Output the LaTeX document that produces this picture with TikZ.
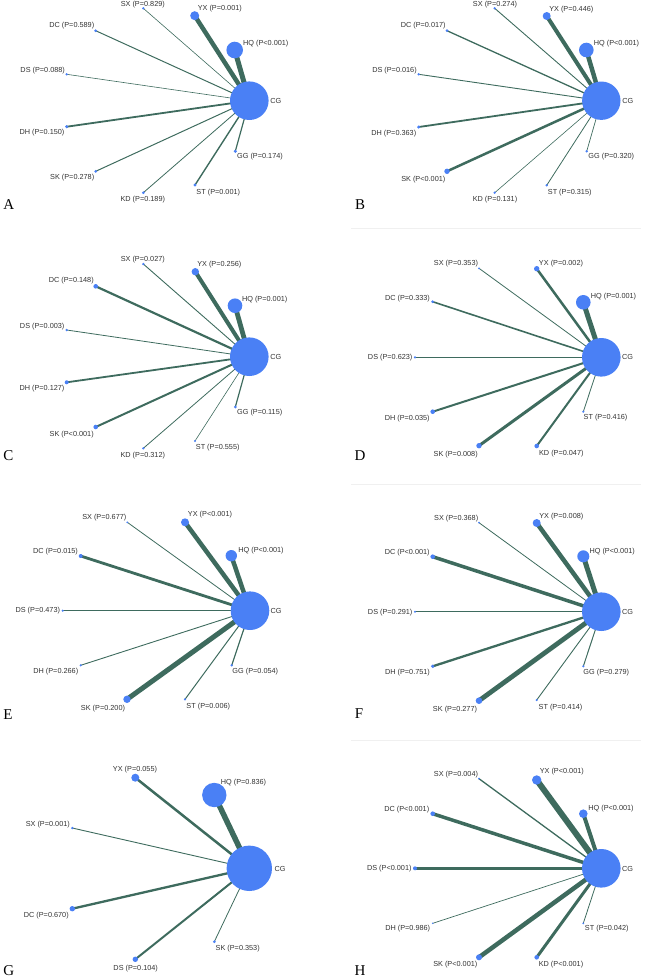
\documentclass[tikz,border=0pt]{standalone}
\usepackage{fontspec}
\setmainfont{Liberation Sans}
\newfontfamily\panelfont{Liberation Serif}
\usepackage{tikz}
\usetikzlibrary{positioning, backgrounds}
\definecolor{trtblue}{HTML}{4A80F5}
\definecolor{linkgreen}{HTML}{3E6B5E}
\definecolor{labgray}{HTML}{333333}

\tikzset{
  trt/.style={circle, fill=trtblue, inner sep=0pt, minimum size=#1},
  lab/.style={font=\fontsize{7.3}{8}\selectfont, text=labgray, inner sep=0pt},
  link/.style={draw=linkgreen, line width=#1},
  panel/.style={font=\panelfont\fontsize{15}{16}\selectfont, inner sep=0pt},
  faintrule/.style={draw=black!6, line width=0.8pt}
}

\begin{document}
\begin{tikzpicture}[x=1pt, y=-1pt]
    \useasboundingbox (0,0) rectangle (646,978);

    % A
    \node[trt=38.6pt] (a-cg) at (249.3,100.7) {}; \node[lab] (a-cg-t) at (275.8,100.7) {CG};
    \node[trt=9pt] (a-yx) at (194.7,15.7) {}; \node[lab] (a-yx-t) at (219.8,8.3) {YX (P=0.001)};
    \node[trt=16.6pt] (a-hq) at (234.7,50) {}; \node[lab] (a-hq-t) at (265.8,43.3) {HQ (P<0.001)};
    \node[trt=2.6pt] (a-sx) at (143.3,8.3) {}; \node[lab] (a-sx-t) at (142.8,5) {SX (P=0.829)};
    \node[trt=3pt] (a-dc) at (95.7,30.7) {}; \node[lab] (a-dc-t) at (71.8,25.3) {DC (P=0.589)};
    \node[trt=2.6pt] (a-ds) at (66.7,74.3) {}; \node[lab] (a-ds-t) at (42.7,71) {DS (P=0.088)};
    \node[trt=3.4pt] (a-dh) at (66.7,126.7) {}; \node[lab] (a-dh-t) at (42,132.7) {DH (P=0.150)};
    \node[trt=3pt] (a-sk) at (95.7,171.3) {}; \node[lab] (a-sk-t) at (72.2,177.7) {SK (P=0.278)};
    \node[trt=3pt] (a-kd) at (143.3,192.7) {}; \node[lab] (a-kd-t) at (142.8,200) {KD (P=0.189)};
    \node[trt=3.4pt] (a-st) at (195,185) {}; \node[lab] (a-st-t) at (218.3,192.3) {ST (P=0.001)};
    \node[trt=3.4pt] (a-gg) at (235.3,151.3) {}; \node[lab] (a-gg-t) at (260,156.7) {GG (P=0.174)};
    \node[panel] (a-name) at (8.7,205) {A};

    % B
    \node[trt=38.4pt] (b-cg) at (601.3,100.7) {}; \node[lab] (b-cg-t) at (627.8,100.7) {CG};
    \node[trt=8pt] (b-yx) at (546.7,16) {}; \node[lab] (b-yx-t) at (571.3,9.3) {YX (P=0.446)};
    \node[trt=14.6pt] (b-hq) at (586.3,50) {}; \node[lab] (b-hq-t) at (616.5,43.3) {HQ (P<0.001)};
    \node[trt=2.6pt] (b-sx) at (494.7,8.3) {}; \node[lab] (b-sx-t) at (495,4.3) {SX (P=0.274)};
    \node[trt=3pt] (b-dc) at (447,30.7) {}; \node[lab] (b-dc-t) at (423.2,25.3) {DC (P=0.017)};
    \node[trt=2.6pt] (b-ds) at (418.7,74.3) {}; \node[lab] (b-ds-t) at (394.5,71) {DS (P=0.016)};
    \node[trt=3.4pt] (b-dh) at (418.7,127) {}; \node[lab] (b-dh-t) at (393.8,133.3) {DH (P=0.363)};
    \node[trt=5.4pt] (b-sk) at (447,171.3) {}; \node[lab] (b-sk-t) at (423.3,179.3) {SK (P<0.001)};
    \node[trt=2.6pt] (b-kd) at (494.7,192.7) {}; \node[lab] (b-kd-t) at (495,200) {KD (P=0.131)};
    \node[trt=2.6pt] (b-st) at (546.7,185.3) {}; \node[lab] (b-st-t) at (569.7,192.3) {ST (P=0.315)};
    \node[trt=2.6pt] (b-gg) at (586.7,151.3) {}; \node[lab] (b-gg-t) at (611.3,156.7) {GG (P=0.320)};
    \node[panel] (b-name) at (360,204.3) {B};
    \draw[faintrule] (351,228.3) -- (641,228.3);

    % C
    \node[trt=38.6pt] (c-cg) at (249.3,356.7) {}; \node[lab] (c-cg-t) at (275.8,356.7) {CG};
    \node[trt=7.4pt] (c-yx) at (195.3,271.7) {}; \node[lab] (c-yx-t) at (219.3,265) {YX (P=0.256)};
    \node[trt=14.6pt] (c-hq) at (235,305.7) {}; \node[lab] (c-hq-t) at (264.7,299.3) {HQ (P=0.001)};
    \node[trt=2.6pt] (c-sx) at (143.3,264) {}; \node[lab] (c-sx-t) at (142.8,259.3) {SX (P=0.027)};
    \node[trt=4.6pt] (c-dc) at (95.7,286.3) {}; \node[lab] (c-dc-t) at (71.3,281) {DC (P=0.148)};
    \node[trt=2.6pt] (c-ds) at (66.7,330) {}; \node[lab] (c-ds-t) at (42.2,326.7) {DS (P=0.003)};
    \node[trt=4pt] (c-dh) at (66.7,382.3) {}; \node[lab] (c-dh-t) at (42,389) {DH (P=0.127)};
    \node[trt=4.6pt] (c-sk) at (95.7,427) {}; \node[lab] (c-sk-t) at (71.7,435) {SK (P<0.001)};
    \node[trt=2.6pt] (c-kd) at (143.3,448.3) {}; \node[lab] (c-kd-t) at (142.8,455.7) {KD (P=0.312)};
    \node[trt=2.4pt] (c-st) at (195,441) {}; \node[lab] (c-st-t) at (217.7,447.7) {ST (P=0.555)};
    \node[trt=3pt] (c-gg) at (235.3,407) {}; \node[lab] (c-gg-t) at (259.7,412.3) {GG (P=0.115)};
    \node[panel] (c-name) at (8.3,455.7) {C};

    % D
    \node[trt=38.6pt] (d-cg) at (601.3,357.3) {}; \node[lab] (d-cg-t) at (627.5,357.3) {CG};
    \node[trt=5.4pt] (d-yx) at (536.7,268.7) {}; \node[lab] (d-yx-t) at (561,263.3) {YX (P=0.002)};
    \node[trt=14.6pt] (d-hq) at (583.3,302.3) {}; \node[lab] (d-hq-t) at (613.5,296.3) {HQ (P=0.001)};
    \node[trt=2pt] (d-sx) at (479,268.3) {}; \node[lab] (d-sx-t) at (456,264) {SX (P=0.353)};
    \node[trt=3pt] (d-dc) at (432.7,301.7) {}; \node[lab] (d-dc-t) at (407.5,298.3) {DC (P=0.333)};
    \node[trt=2.4pt] (d-ds) at (415,357.3) {}; \node[lab] (d-ds-t) at (390.2,357.7) {DS (P=0.623)};
    \node[trt=4.6pt] (d-dh) at (432.7,411.7) {}; \node[lab] (d-dh-t) at (407.2,418.3) {DH (P=0.035)};
    \node[trt=5.4pt] (d-sk) at (479,445.7) {}; \node[lab] (d-sk-t) at (455.7,454.3) {SK (P=0.008)};
    \node[trt=4.6pt] (d-kd) at (536.7,446) {}; \node[lab] (d-kd-t) at (561.3,454) {KD (P=0.047)};
    \node[trt=2.4pt] (d-st) at (583.3,411.7) {}; \node[lab] (d-st-t) at (605.5,417.7) {ST (P=0.416)};
    \node[panel] (d-name) at (360,456) {D};
    \draw[faintrule] (351,484.3) -- (641,484.3);

    % E
    \node[trt=38.6pt] (e-cg) at (250,610.7) {}; \node[lab] (e-cg-t) at (276.2,610.7) {CG};
    \node[trt=8pt] (e-yx) at (185,522.3) {}; \node[lab] (e-yx-t) at (210,515) {YX (P<0.001)};
    \node[trt=11.4pt] (e-hq) at (231.3,555.7) {}; \node[lab] (e-hq-t) at (261,550.7) {HQ (P<0.001)};
    \node[trt=2pt] (e-sx) at (127.3,522.3) {}; \node[lab] (e-sx-t) at (104.3,517.7) {SX (P=0.677)};
    \node[trt=4pt] (e-dc) at (80.7,556) {}; \node[lab] (e-dc-t) at (55.5,552) {DC (P=0.015)};
    \node[trt=2.4pt] (e-ds) at (62.7,610.7) {}; \node[lab] (e-ds-t) at (37.8,610.7) {DS (P=0.473)};
    \node[trt=2.4pt] (e-dh) at (80.7,665.3) {}; \node[lab] (e-dh-t) at (55.8,671.7) {DH (P=0.266)};
    \node[trt=7.4pt] (e-sk) at (127,699.3) {}; \node[lab] (e-sk-t) at (103,708.7) {SK (P=0.200)};
    \node[trt=2.4pt] (e-st) at (185,699.3) {}; \node[lab] (e-st-t) at (208.3,706.7) {ST (P=0.006)};
    \node[trt=2.6pt] (e-gg) at (231.7,665.3) {}; \node[lab] (e-gg-t) at (255.3,671.7) {GG (P=0.054)};
    \node[panel] (e-name) at (8,715) {E};

    % F
    \node[trt=38.6pt] (f-cg) at (601.3,611.7) {}; \node[lab] (f-cg-t) at (627.5,612.3) {CG};
    \node[trt=8pt] (f-yx) at (536.7,523) {}; \node[lab] (f-yx-t) at (561.3,516.7) {YX (P=0.008)};
    \node[trt=12pt] (f-hq) at (583.3,556.3) {}; \node[lab] (f-hq-t) at (612.2,551.3) {HQ (P<0.001)};
    \node[trt=2pt] (f-sx) at (479,522.7) {}; \node[lab] (f-sx-t) at (456.2,518.3) {SX (P=0.368)};
    \node[trt=4.6pt] (f-dc) at (432.7,556.7) {}; \node[lab] (f-dc-t) at (407.2,552.3) {DC (P<0.001)};
    \node[trt=2.4pt] (f-ds) at (415,611.7) {}; \node[lab] (f-ds-t) at (390.2,612.3) {DS (P=0.291)};
    \node[trt=3.6pt] (f-dh) at (432.7,666.3) {}; \node[lab] (f-dh-t) at (407.5,672.7) {DH (P=0.751)};
    \node[trt=6.6pt] (f-sk) at (479,700.7) {}; \node[lab] (f-sk-t) at (455,709.3) {SK (P=0.277)};
    \node[trt=2.4pt] (f-st) at (536.7,700) {}; \node[lab] (f-st-t) at (560.5,707.7) {ST (P=0.414)};
    \node[trt=2.4pt] (f-gg) at (583.3,666.3) {}; \node[lab] (f-gg-t) at (606.3,672.3) {GG (P=0.279)};
    \node[panel] (f-name) at (359,714) {F};

    % G
    \node[trt=45.4pt] (g-cg) at (249.3,868.3) {}; \node[lab] (g-cg-t) at (280,869) {CG};
    \node[trt=8pt] (g-yx) at (135.3,777.7) {}; \node[lab] (g-yx-t) at (135,769.3) {YX (P=0.055)};
    \node[trt=24.4pt] (g-hq) at (214.3,795) {}; \node[lab] (g-hq-t) at (243.5,782.3) {HQ (P=0.836)};
    \node[trt=2.6pt] (g-sx) at (72.3,828) {}; \node[lab] (g-sx-t) at (47.8,824.3) {SX (P=0.001)};
    \node[trt=5.4pt] (g-dc) at (72.3,908.7) {}; \node[lab] (g-dc-t) at (46.3,916) {DC (P=0.670)};
    \node[trt=5.4pt] (g-ds) at (135.3,959.3) {}; \node[lab] (g-ds-t) at (135.7,968.3) {DS (P=0.104)};
    \node[trt=3pt] (g-sk) at (214.3,941.7) {}; \node[lab] (g-sk-t) at (237.7,948.3) {SK (P=0.353)};
    \node[panel] (g-name) at (8.7,970.5) {G};

    % H
    \draw[faintrule] (351,740) -- (641,740);
    \node[trt=38.6pt] (h-cg) at (601.3,868.3) {}; \node[lab] (h-cg-t) at (627.5,869) {CG};
    \node[trt=9.4pt] (h-yx) at (536.7,780) {}; \node[lab] (h-yx-t) at (561.8,771.7) {YX (P<0.001)};
    \node[trt=8.6pt] (h-hq) at (583.3,813.7) {}; \node[lab] (h-hq-t) at (611,809) {HQ (P<0.001)};
    \node[trt=2pt] (h-sx) at (479,778.7) {}; \node[lab] (h-sx-t) at (456,775) {SX (P=0.004)};
    \node[trt=4.6pt] (h-dc) at (432.7,813.7) {}; \node[lab] (h-dc-t) at (406.8,810) {DC (P<0.001)};
    \node[trt=4pt] (h-ds) at (415,868.3) {}; \node[lab] (h-ds-t) at (389.3,869) {DS (P<0.001)};
    \node[trt=1.6pt] (h-dh) at (432.7,923.3) {}; \node[lab] (h-dh-t) at (407.7,929) {DH (P=0.986)};
    \node[trt=6pt] (h-sk) at (479,957.3) {}; \node[lab] (h-sk-t) at (455.3,965) {SK (P<0.001)};
    \node[trt=4.6pt] (h-kd) at (536.7,957.3) {}; \node[lab] (h-kd-t) at (561,965) {KD (P<0.001)};
    \node[trt=2pt] (h-st) at (583.3,923.3) {}; \node[lab] (h-st-t) at (606.8,929) {ST (P=0.042)};
    \node[panel] (h-name) at (360,970.8) {H};

    % links behind the circles
    \begin{scope}[on background layer]
    \draw[link=0.6pt] (a-sx.center) -- (a-cg.center);
    \draw[link=4.5pt] (a-yx.center) -- (a-cg.center);
    \draw[link=5pt] (a-hq.center) -- (a-cg.center);
    \draw[link=1pt] (a-dc.center) -- (a-cg.center);
    \draw[link=0.6pt] (a-ds.center) -- (a-cg.center);
    \draw[link=1.8pt] (a-dh.center) -- (a-cg.center);
    \draw[link=1pt] (a-sk.center) -- (a-cg.center);
    \draw[link=0.8pt] (a-kd.center) -- (a-cg.center);
    \draw[link=1.4pt] (a-st.center) -- (a-cg.center);
    \draw[link=1.2pt] (a-gg.center) -- (a-cg.center);

    \draw[link=0.9pt] (b-sx.center) -- (b-cg.center);
    \draw[link=4pt] (b-yx.center) -- (b-cg.center);
    \draw[link=4.5pt] (b-hq.center) -- (b-cg.center);
    \draw[link=1.3pt] (b-dc.center) -- (b-cg.center);
    \draw[link=0.9pt] (b-ds.center) -- (b-cg.center);
    \draw[link=1.8pt] (b-dh.center) -- (b-cg.center);
    \draw[link=2.5pt] (b-sk.center) -- (b-cg.center);
    \draw[link=0.6pt] (b-kd.center) -- (b-cg.center);
    \draw[link=0.8pt] (b-st.center) -- (b-cg.center);
    \draw[link=0.7pt] (b-gg.center) -- (b-cg.center);

    \draw[link=0.9pt] (c-sx.center) -- (c-cg.center);
    \draw[link=4pt] (c-yx.center) -- (c-cg.center);
    \draw[link=4.8pt] (c-hq.center) -- (c-cg.center);
    \draw[link=2.2pt] (c-dc.center) -- (c-cg.center);
    \draw[link=0.8pt] (c-ds.center) -- (c-cg.center);
    \draw[link=1.8pt] (c-dh.center) -- (c-cg.center);
    \draw[link=2pt] (c-sk.center) -- (c-cg.center);
    \draw[link=0.8pt] (c-kd.center) -- (c-cg.center);
    \draw[link=0.6pt] (c-st.center) -- (c-cg.center);
    \draw[link=1.2pt] (c-gg.center) -- (c-cg.center);

    \draw[link=0.8pt] (d-sx.center) -- (d-cg.center);
    \draw[link=2.5pt] (d-yx.center) -- (d-cg.center);
    \draw[link=5pt] (d-hq.center) -- (d-cg.center);
    \draw[link=1.6pt] (d-dc.center) -- (d-cg.center);
    \draw[link=0.9pt] (d-ds.center) -- (d-cg.center);
    \draw[link=2pt] (d-dh.center) -- (d-cg.center);
    \draw[link=3pt] (d-sk.center) -- (d-cg.center);
    \draw[link=2pt] (d-kd.center) -- (d-cg.center);
    \draw[link=0.8pt] (d-st.center) -- (d-cg.center);

    \draw[link=0.8pt] (e-sx.center) -- (e-cg.center);
    \draw[link=4.5pt] (e-yx.center) -- (e-cg.center);
    \draw[link=4.5pt] (e-hq.center) -- (e-cg.center);
    \draw[link=2.8pt] (e-dc.center) -- (e-cg.center);
    \draw[link=1.3pt] (e-ds.center) -- (e-cg.center);
    \draw[link=0.9pt] (e-dh.center) -- (e-cg.center);
    \draw[link=5pt] (e-sk.center) -- (e-cg.center);
    \draw[link=1pt] (e-st.center) -- (e-cg.center);
    \draw[link=1.2pt] (e-gg.center) -- (e-cg.center);

    \draw[link=0.8pt] (f-sx.center) -- (f-cg.center);
    \draw[link=4.5pt] (f-yx.center) -- (f-cg.center);
    \draw[link=5pt] (f-hq.center) -- (f-cg.center);
    \draw[link=3.5pt] (f-dc.center) -- (f-cg.center);
    \draw[link=1.3pt] (f-ds.center) -- (f-cg.center);
    \draw[link=2.3pt] (f-dh.center) -- (f-cg.center);
    \draw[link=4.8pt] (f-sk.center) -- (f-cg.center);
    \draw[link=0.9pt] (f-st.center) -- (f-cg.center);
    \draw[link=1pt] (f-gg.center) -- (f-cg.center);

    \draw[link=2.5pt] (g-yx.center) -- (g-cg.center);
    \draw[link=5.5pt] (g-hq.center) -- (g-cg.center);
    \draw[link=0.9pt] (g-sx.center) -- (g-cg.center);
    \draw[link=2.3pt] (g-dc.center) -- (g-cg.center);
    \draw[link=2pt] (g-ds.center) -- (g-cg.center);
    \draw[link=0.8pt] (g-sk.center) -- (g-cg.center);

    \draw[link=1.3pt] (h-sx.center) -- (h-cg.center);
    \draw[link=6pt] (h-yx.center) -- (h-cg.center);
    \draw[link=4pt] (h-hq.center) -- (h-cg.center);
    \draw[link=3.5pt] (h-dc.center) -- (h-cg.center);
    \draw[link=3.5pt] (h-ds.center) -- (h-cg.center);
    \draw[link=0.7pt] (h-dh.center) -- (h-cg.center);
    \draw[link=4.5pt] (h-sk.center) -- (h-cg.center);
    \draw[link=3pt] (h-kd.center) -- (h-cg.center);
    \draw[link=0.8pt] (h-st.center) -- (h-cg.center);
    \end{scope}
\end{tikzpicture}
\end{document}
